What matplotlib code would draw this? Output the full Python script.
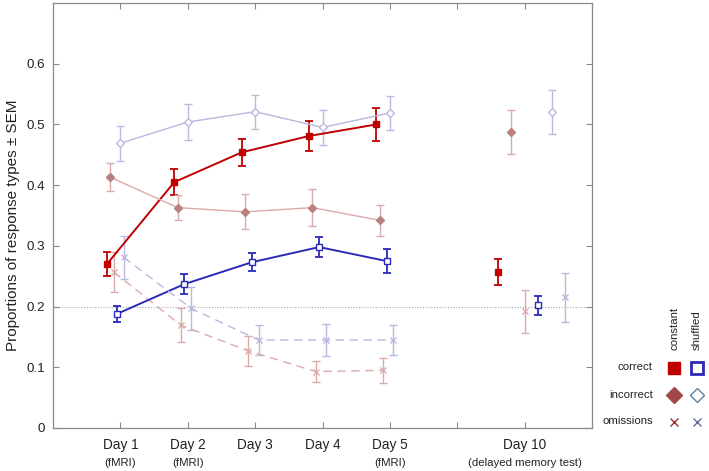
import matplotlib
matplotlib.use("Agg")
import matplotlib.pyplot as plt
from matplotlib.lines import Line2D
import numpy as np

plt.rcParams['font.family'] = ['Liberation Sans', 'DejaVu Sans']

days = ["Day 1", "Day 2", "Day 3", "Day 4", "Day 5", "", "Day 10"]
sublabels = ["(fMRI)", "(fMRI)", "", "", "(fMRI)", "", "(delayed memory test)"]
pos_train = [1, 2, 3, 4, 5]
pos_test = 7

# values: days 1-5, then day 10
const_correct = [0.270, 0.405, 0.454, 0.481, 0.500, 0.257]
const_correct_err = [0.020, 0.021, 0.022, 0.024, 0.027, 0.021]
const_incorrect = [0.413, 0.363, 0.356, 0.363, 0.342, 0.488]
const_incorrect_err = [0.023, 0.021, 0.029, 0.031, 0.026, 0.036]
const_omit = [0.257, 0.169, 0.127, 0.093, 0.095, 0.192]
const_omit_err = [0.033, 0.028, 0.025, 0.018, 0.021, 0.036]
shuf_correct = [0.188, 0.237, 0.273, 0.298, 0.275, 0.202]
shuf_correct_err = [0.013, 0.016, 0.015, 0.017, 0.020, 0.016]
shuf_incorrect = [0.469, 0.504, 0.521, 0.495, 0.519, 0.520]
shuf_incorrect_err = [0.029, 0.030, 0.028, 0.029, 0.028, 0.036]
shuf_omit = [0.281, 0.197, 0.145, 0.145, 0.145, 0.215]
shuf_omit_err = [0.036, 0.035, 0.024, 0.026, 0.024, 0.040]

fig = plt.figure(figsize=(7.09, 4.71), dpi=100)
ax = fig.add_axes([0.0748, 0.0913, 0.7602, 0.9023])

RED = "#c00000"
BLUE = "#2a2ab8"
PINK = "#dcaaaa"
PINK_M = "#b88080"
LAV = "#b8b8e0"

series = [
    # values, errors, train offset, test offset, color, marker, mfc, mec, ls, lw, ms, elw
    (const_correct, const_correct_err, -0.20, -0.4, RED, "s", RED, RED, "-", 1.4, 4, 1.3),
    (const_incorrect, const_incorrect_err, -0.15, -0.2, PINK, "D", PINK_M, PINK_M, "-", 1.0, 4, 1.0),
    (const_omit, const_omit_err, -0.10, 0.0, PINK, "x", "none", PINK, (0, (6, 4)), 1.0, 4, 1.0),
    (shuf_correct, shuf_correct_err, -0.05, 0.2, BLUE, "s", "white", BLUE, "-", 1.4, 4, 1.3),
    (shuf_incorrect, shuf_incorrect_err, 0.00, 0.4, LAV, "D", "white", LAV, "-", 1.0, 4.5, 1.0),
    (shuf_omit, shuf_omit_err, 0.05, 0.6, LAV, "x", "none", LAV, (0, (6, 4)), 1.0, 4, 1.0),
]

ax.axhline(0.2, color="#aaaaaa", lw=0.8, ls=(0, (1, 1.5)), zorder=1)

for vals, errs, off, toff, col, mk, mfc, mec, ls, lw, ms, elw in series:
    xs = np.array(pos_train) + off
    ax.errorbar(xs, vals[:5], yerr=errs[:5], color=col, marker=mk, mfc=mfc, mec=mec,
                ls=ls, lw=lw, ms=ms, ecolor=col, elinewidth=elw, capsize=3,
                capthick=elw, zorder=3)
    ax.errorbar([pos_test + toff], [vals[5]], yerr=[errs[5]], color=col, marker=mk,
                mfc=mfc, mec=mec, ls="none", ms=ms, ecolor=col, elinewidth=elw,
                capsize=3, capthick=elw, zorder=3)

ax.set_xlim(0, 8)
ax.set_ylim(0, 0.7)
ax.set_xticks([1, 2, 3, 4, 5, 6, 7])
ax.set_xticklabels(days, fontsize=9.8, color="#222222")
ax.set_yticks([0, 0.1, 0.2, 0.3, 0.4, 0.5, 0.6])
ax.set_yticklabels(["0", "0.1", "0.2", "0.3", "0.4", "0.5", "0.6"], fontsize=9.6, color="#222222")
ax.tick_params(direction="in", length=4, color="#888888", top=True, right=True)
ax.tick_params(axis="y", pad=6)
ax.tick_params(axis="x", pad=7)
for s in ax.spines.values():
    s.set_color("#888888")
    s.set_linewidth(0.9)
fig.text(13 / 709, 1 - 225 / 471, "Proportions of response types ± SEM", rotation=90,
         ha="center", va="center", fontsize=11, color="#222222")

for p, sl in zip([1, 2, 3, 4, 5, 6, 7], sublabels):
    if sl:
        ax.text(p, -0.07, sl, transform=ax.get_xaxis_transform(), ha="center", va="top",
                fontsize=8.2, color="#222222")

# custom legend
fig.text(674 / 709, 1 - 350 / 471, "constant", rotation=90, ha="center", va="bottom",
         fontsize=8.2, color="#222222")
fig.text(697 / 709, 1 - 350 / 471, "shuffled", rotation=90, ha="center", va="bottom",
         fontsize=8.2, color="#222222")
rows = [("correct", 367.5, ("s", RED, RED, 9, 1.0), ("s", BLUE, "white", 8, 2.0)),
        ("incorrect", 394.5, ("D", "#a04848", "#a04848", 8, 1.0), ("D", "#6080a0", "white", 7, 1.0)),
        ("omissions", 421.5, ("x", "#a03030", "none", 6, 1.0), ("x", "#6070a0", "none", 6, 1.0))]
for label, yy, m1, m2 in rows:
    fy = 1 - yy / 471
    fig.text(653 / 709, fy, label, ha="right", va="center", fontsize=8.2, color="#222222")
    for xx, (mk, ec, fc, ms, mew) in [(674, m1), (697, m2)]:
        fig.add_artist(Line2D([xx / 709], [fy], marker=mk, mec=ec, mfc=fc, ms=ms, mew=mew,
                              ls="none", transform=fig.transFigure))

fig.savefig("out.png", dpi=100)
